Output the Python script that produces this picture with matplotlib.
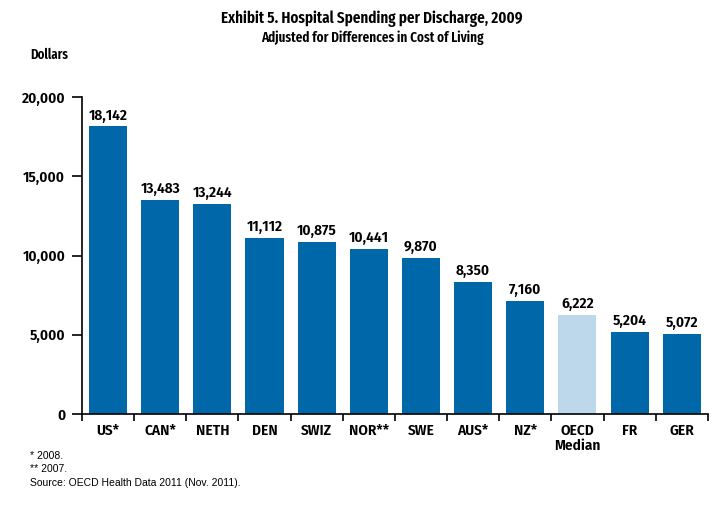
import matplotlib
matplotlib.use("Agg")
import matplotlib.pyplot as plt
import numpy as np

paises = ['US*', 'CAN*', 'NETH', 'DEN', 'SWIZ', 'NOR**', 'SWE', 'AUS*', 'NZ*', 'OECD\nMedian', 'FR', 'GER']
valores = [18142, 13483, 13244, 11112, 10875, 10441, 9870, 8350, 7160, 6222, 5204, 5072]
destaque = 'OECD\nMedian'

plt.rcParams['font.family'] = ['Fira Sans Condensed', 'DejaVu Sans']
PESO = 600
estreita = ['Fira Sans Extra Condensed', 'DejaVu Sans']

azul, azul_claro = '#0068a8', '#bcd8ea'
cores = [azul_claro if p == destaque else azul for p in paises]

fig = plt.figure(figsize=(7.21, 5.08), dpi=100)
ax = fig.add_axes([0.1137, 0.185, 0.868, 0.624])

x = np.arange(len(paises))
ax.bar(x, valores, 0.73, color=cores)
for xi, v in zip(x, valores):
    ax.text(xi, v + 250, f'{v:,}', ha='center', va='bottom', fontsize=11,
            fontweight=PESO, clip_on=False)

ax.set_xlim(-0.5, len(paises) - 0.5)
ax.set_ylim(0, 20000)
ax.set_yticks(np.arange(0, 20001, 5000))
ax.set_yticklabels([f'{t:,}' for t in range(0, 20001, 5000)], fontsize=11, fontweight=PESO)
ax.set_xticks(x)
ax.set_xticklabels(paises, fontsize=11, fontweight=PESO, linespacing=1.1)
ax.set_xticks(np.arange(-0.5, len(paises)), minor=True)
ax.tick_params(axis='x', which='major', length=0, pad=7)
ax.tick_params(axis='x', which='minor', length=5, width=1.2, direction='out')
ax.tick_params(axis='y', length=7, width=1.2, pad=5)
for lado in ['top', 'right']:
    ax.spines[lado].set_visible(False)
for lado in ['left', 'bottom']:
    ax.spines[lado].set_linewidth(1.2)

fig.text(0.516, 0.955, 'Exhibit 5. Hospital Spending per Discharge, 2009', ha='center',
         fontsize=11.8, fontweight=PESO, family=estreita)
fig.text(0.516, 0.918, 'Adjusted for Differences in Cost of Living', ha='center',
         fontsize=10.3, fontweight=PESO, family=estreita)
fig.text(0.042, 0.883, 'Dollars', fontsize=10, fontweight=PESO, family=estreita)

nota = ['Liberation Sans', 'DejaVu Sans']
fig.text(0.042, 0.097, '* 2008.', fontsize=7.5, family=nota)
fig.text(0.042, 0.070, '** 2007.', fontsize=7.5, family=nota)
fig.text(0.042, 0.043, 'Source: OECD Health Data 2011 (Nov. 2011).', fontsize=7.5, family=nota)

plt.savefig('out.png', dpi=100)
